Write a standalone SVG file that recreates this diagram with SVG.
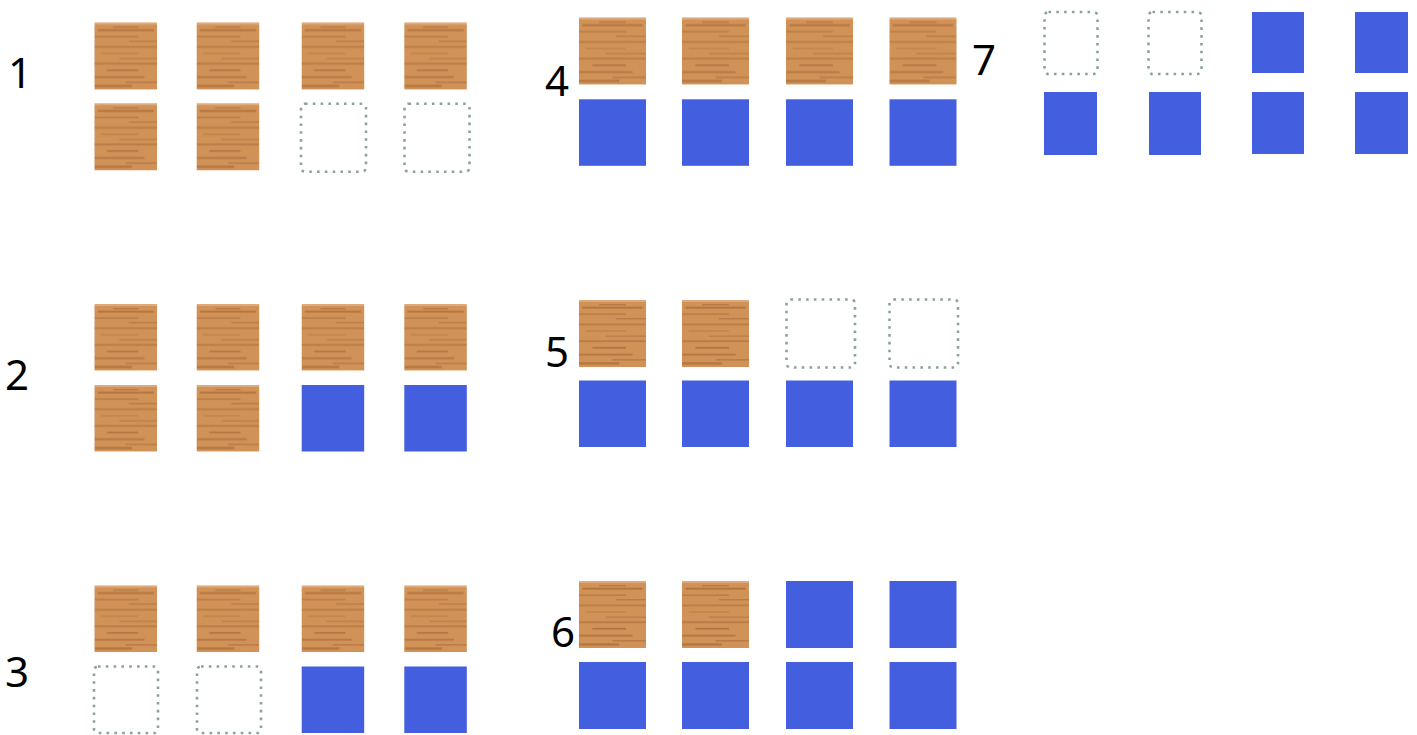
<svg xmlns="http://www.w3.org/2000/svg" width="1417" height="735" viewBox="0 0 1417 735">
<defs>
<pattern id="wood" patternUnits="objectBoundingBox" patternContentUnits="objectBoundingBox" width="1" height="1">
<rect width="1" height="1" fill="#d19258"/>
<rect y="0" width="1" height="0.03" fill="#e0a979"/>
<rect x="0.05" y="0.1" width="0.9" height="0.03" fill="#a4622f" opacity="0.6"/>
<rect x="0.3" y="0.06" width="0.4" height="0.02" fill="#9c5e30" opacity="0.5"/>
<rect x="0" y="0.2" width="0.7" height="0.025" fill="#ad6c38" opacity="0.55"/>
<rect x="0.55" y="0.27" width="0.45" height="0.02" fill="#9f6031" opacity="0.5"/>
<rect x="0" y="0.35" width="1" height="0.03" fill="#aa6a36" opacity="0.5"/>
<rect x="0.1" y="0.45" width="0.6" height="0.025" fill="#b47a3e" opacity="0.55"/>
<rect x="0.4" y="0.53" width="0.6" height="0.02" fill="#9c6633" opacity="0.45"/>
<rect x="0" y="0.6" width="1" height="0.03" fill="#a56636" opacity="0.5"/>
<rect x="0.2" y="0.7" width="0.5" height="0.025" fill="#935b2d" opacity="0.55"/>
<rect x="0" y="0.8" width="0.8" height="0.03" fill="#a16232" opacity="0.55"/>
<rect x="0.5" y="0.88" width="0.5" height="0.025" fill="#a56636" opacity="0.5"/>
<rect x="0" y="0.93" width="0.6" height="0.035" fill="#9d6030" opacity="0.55"/>
</pattern>
<style>
.w{fill:url(#wood)}
.b{fill:#435EDF}
.d{fill:none;stroke:#8aa39d;stroke-width:2.6;stroke-dasharray:2.6 5.2}
.n{font-family:"Noto Sans","Open Sans",sans-serif;font-size:42px;fill:#000}
</style>
</defs>
<rect width="1417" height="735" fill="#fff"/>

<g id="fig1">
<text class="n" x="8" y="88">1</text>
<rect class="w" x="94.5" y="22.5" width="62.5" height="67"/>
<rect class="w" x="196.7" y="22.5" width="62.5" height="67"/>
<rect class="w" x="301.7" y="22.5" width="62.5" height="67"/>
<rect class="w" x="404.3" y="22.5" width="62.5" height="67"/>
<rect class="w" x="94.5" y="103.3" width="62.5" height="67"/>
<rect class="w" x="196.7" y="103.3" width="62.5" height="67"/>
<rect class="d" x="301" y="103.7" width="65" height="68" rx="4"/>
<rect class="d" x="404.5" y="103.7" width="65" height="68" rx="4"/>
</g>

<g id="fig2">
<text class="n" x="5" y="390">2</text>
<rect class="w" x="94.5" y="304" width="62.5" height="66.5"/>
<rect class="w" x="196.7" y="304" width="62.5" height="66.5"/>
<rect class="w" x="301.7" y="304" width="62.5" height="66.5"/>
<rect class="w" x="404.3" y="304" width="62.5" height="66.5"/>
<rect class="w" x="94.5" y="385" width="62.5" height="66.5"/>
<rect class="w" x="196.7" y="385" width="62.5" height="66.5"/>
<rect class="b" x="301.7" y="385" width="62.5" height="66.5"/>
<rect class="b" x="404.3" y="385" width="62.5" height="66.5"/>
</g>

<g id="fig3">
<text class="n" x="5" y="687">3</text>
<rect class="w" x="94.5" y="585.5" width="62.5" height="66.5"/>
<rect class="w" x="196.7" y="585.5" width="62.5" height="66.5"/>
<rect class="w" x="301.7" y="585.5" width="62.5" height="66.5"/>
<rect class="w" x="404.3" y="585.5" width="62.5" height="66.5"/>
<rect class="d" x="94" y="666.5" width="64" height="66.5" rx="4"/>
<rect class="d" x="197" y="666.5" width="64" height="66.5" rx="4"/>
<rect class="b" x="301.7" y="666.5" width="62.5" height="66.5"/>
<rect class="b" x="404.3" y="666.5" width="62.5" height="66.5"/>
</g>

<g id="fig4">
<text class="n" x="545" y="96">4</text>
<rect class="w" x="579" y="17.5" width="67" height="67"/>
<rect class="w" x="682" y="17.5" width="67" height="67"/>
<rect class="w" x="786" y="17.5" width="67" height="67"/>
<rect class="w" x="889.5" y="17.5" width="67" height="67"/>
<rect class="b" x="579" y="99.3" width="67" height="66.5"/>
<rect class="b" x="682" y="99.3" width="67" height="66.5"/>
<rect class="b" x="786" y="99.3" width="67" height="66.5"/>
<rect class="b" x="889.5" y="99.3" width="67" height="66.5"/>
</g>

<g id="fig5">
<text class="n" x="545" y="367">5</text>
<rect class="w" x="579" y="300" width="67" height="67"/>
<rect class="w" x="682" y="300" width="67" height="67"/>
<rect class="d" x="786.5" y="299.5" width="68.5" height="68" rx="4"/>
<rect class="d" x="889.5" y="299.5" width="68.5" height="68" rx="4"/>
<rect class="b" x="579" y="380.5" width="67" height="66.5"/>
<rect class="b" x="682" y="380.5" width="67" height="66.5"/>
<rect class="b" x="786" y="380.5" width="67" height="66.5"/>
<rect class="b" x="889.5" y="380.5" width="67" height="66.5"/>
</g>

<g id="fig6">
<text class="n" x="551" y="647">6</text>
<rect class="w" x="579" y="581" width="67" height="67"/>
<rect class="w" x="682" y="581" width="67" height="67"/>
<rect class="b" x="786" y="581" width="67" height="67"/>
<rect class="b" x="889.5" y="581" width="67" height="67"/>
<rect class="b" x="579" y="662" width="67" height="67"/>
<rect class="b" x="682" y="662" width="67" height="67"/>
<rect class="b" x="786" y="662" width="67" height="67"/>
<rect class="b" x="889.5" y="662" width="67" height="67"/>
</g>

<g id="fig7">
<text class="n" x="972" y="75">7</text>
<rect class="d" x="1044.5" y="12" width="53" height="62" rx="4"/>
<rect class="d" x="1148.5" y="12" width="53" height="62" rx="4"/>
<rect class="b" x="1252" y="12" width="52" height="61"/>
<rect class="b" x="1355" y="12" width="53" height="61"/>
<rect class="b" x="1044" y="92" width="53" height="63"/>
<rect class="b" x="1149" y="92" width="52" height="63"/>
<rect class="b" x="1252" y="92" width="52" height="62"/>
<rect class="b" x="1355" y="92" width="53" height="62"/>
</g>
</svg>
